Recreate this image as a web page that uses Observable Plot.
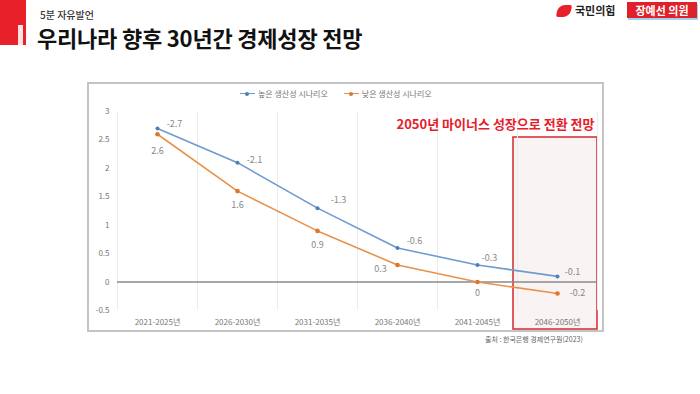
<!DOCTYPE html>
<html><head><meta charset="utf-8">
<script src="https://cdn.jsdelivr.net/npm/d3@7"></script>
<script src="https://cdn.jsdelivr.net/npm/@observablehq/plot@0.6"></script>
<style>
html,body{margin:0;padding:0;background:#fff;}
body{width:700px;height:394px;position:relative;overflow:hidden;font-family:"Noto Sans CJK KR","Noto Sans",sans-serif;}
.abs{position:absolute;}
#redblock{left:0;top:0;width:26px;height:45px;background:#e8202a;}
#redone{left:18px;top:25px;width:5px;height:20px;background:#fbe3e4;}
#sub{left:40px;top:7px;font-size:10px;color:#333;font-weight:500;}
#title{left:37px;top:21px;font-size:22px;font-weight:700;color:#111;letter-spacing:-0.2px;}
#leaf{left:557px;top:5px;width:14px;height:12px;background:#e8202a;border-radius:7px 2px 7px 2px;transform:skewX(-10deg);}
#party{left:575px;top:2px;font-size:11px;font-weight:700;color:#222;}
#nameBox{left:627px;top:2px;width:70px;height:16px;background:#e0202a;color:#fff;font-size:11px;font-weight:700;text-align:center;line-height:16px;box-shadow:1px 2px 0 #9fd3ec;}
#card{left:87px;top:82px;width:513px;height:246px;border:2px solid #c4c4c4;}
#chart{left:87px;top:82px;}
#legend{left:240px;top:88px;font-size:8px;color:#777;display:flex;gap:16px;align-items:center;}
.li{display:flex;align-items:center;gap:3px;}
.sw{position:relative;width:15px;height:8px;}
.sw i{position:absolute;left:0;top:3.5px;width:15px;height:1.2px;}
.sw b{position:absolute;left:5px;top:2px;width:4px;height:4px;border-radius:2px;}
#source{left:485px;top:334px;font-size:7px;color:#666;}
</style></head>
<body>
<div class="abs" id="redblock"></div><div class="abs" id="redone"></div>
<div class="abs" id="sub">5분 자유발언</div>
<div class="abs" id="title">우리나라 향후 30년간 경제성장 전망</div>
<div class="abs" id="leaf"></div>
<div class="abs" id="party">국민의힘</div>
<div class="abs" id="nameBox">장예선 의원</div>
<div class="abs" id="card"></div>
<div class="abs" id="chart"></div>
<div class="abs" id="legend"></div>
<div class="abs" id="source">출처 : 한국은행 경제연구원(2023)</div>
<script>
const periods = ["2021-2025년","2026-2030년","2031-2035년","2036-2040년","2041-2045년","2046-2050년"];
const highSeries = [2.7, 2.1, 1.3, 0.6, 0.3, 0.1];
const lowSeries = [2.6, 1.6, 0.9, 0.3, 0, -0.2];
const seriesNames = ["높은 생산성 시나리오", "낮은 생산성 시나리오"];
const colors = ["#6b9bd0", "#e8914b"];
const yTicks = [-0.5, 0, 0.5, 1, 1.5, 2, 2.5, 3];
const annotation = "2050년 마이너스 성장으로 전환 전망";
const highlightIndex = 5;

const idx = periods.map((_, i) => i);
const rows = [
  ...idx.map(i => ({i, v: highSeries[i], s: seriesNames[0]})),
  ...idx.map(i => ({i, v: lowSeries[i], s: seriesNames[1]}))
];
const high = rows.filter(d => d.s === seriesNames[0]);
const low = rows.filter(d => d.s === seriesNames[1]);
const lowDx = [0, 0, 0, -17, 0, 20];
const lowDy = [17, 14, 14, 4, 11, 0];
const highDx = [17, 17, 21, 17, 12, 15];
const highDy = [-4, -3, -8, -7, -7, -4];
const fnt = v => String(v);

const marks = [
  Plot.rect([highlightIndex], {x1: d => d - 0.5, x2: d => d + 0.5, y1: -0.5, y2: 3,
    insetTop: 26, insetBottom: -19, insetLeft: -4, fill: "#f6eeee", fillOpacity: 0.7, stroke: "#d8343c", strokeWidth: 1.6}),
  Plot.ruleX(d3.range(periods.length + 1).map(k => k - 0.5), {y1: -0.5, y2: 3, stroke: "#ececec", strokeWidth: 1}),
  Plot.ruleY([0], {x1: -0.5, x2: periods.length - 0.5, stroke: "#8a8a8a", strokeWidth: 1.5}),
  Plot.line(low, {x: "i", y: "v", stroke: colors[1], strokeWidth: 1.6}),
  Plot.line(high, {x: "i", y: "v", stroke: colors[0], strokeWidth: 1.6}),
  Plot.dot(low, {x: "i", y: "v", fill: "#d9772f", r: 2.3}),
  Plot.dot(high, {x: "i", y: "v", fill: "#4f7fb8", r: 2}),
  ...low.map((d, k) => Plot.text([d], {x: "i", y: "v", text: r => fnt(r.v), dx: lowDx[k], dy: lowDy[k], fill: "#888", fontSize: 9})),
  ...high.map((d, k) => Plot.text([d], {x: "i", y: "v", text: r => "-" + fnt(r.v), dx: highDx[k], dy: highDy[k], fill: "#888", fontSize: 9})),
  Plot.text([annotation], {x: highlightIndex + 0.5, y: 3, text: d => d, textAnchor: "end", dy: 13, dx: -3,
    fill: "#e5202b", fontWeight: 700, fontSize: 13})
];

const chart = Plot.plot({
  width: 517, height: 249,
  marginLeft: 30, marginRight: 7, marginTop: 29, marginBottom: 21,
  style: {fontFamily: '"Noto Sans CJK KR","Noto Sans",sans-serif', background: "transparent", overflow: "visible"},
  x: {domain: [-0.5, periods.length - 0.5], label: null},
  y: {domain: [-0.5, 3], label: null},
  marks: [
    ...marks,
    Plot.axisX({ticks: idx, tickFormat: i => periods[i], tickSize: 0, tickPadding: 9, fontSize: 8, fill: "#777", label: null}),
    Plot.axisY({ticks: yTicks, tickFormat: v => String(v), tickSize: 0, tickPadding: 8, fontSize: 8, fill: "#777", label: null})
  ]
});
document.getElementById("chart").appendChild(chart);

const legend = document.getElementById("legend");
seriesNames.forEach((n, k) => {
  const el = document.createElement("div");
  el.className = "li";
  el.innerHTML = `<span class="sw"><i style="background:${colors[k]}"></i><b style="background:${k ? "#d9772f" : "#4f7fb8"}"></b></span><span>${n}</span>`;
  legend.appendChild(el);
});
</script>
</body></html>
